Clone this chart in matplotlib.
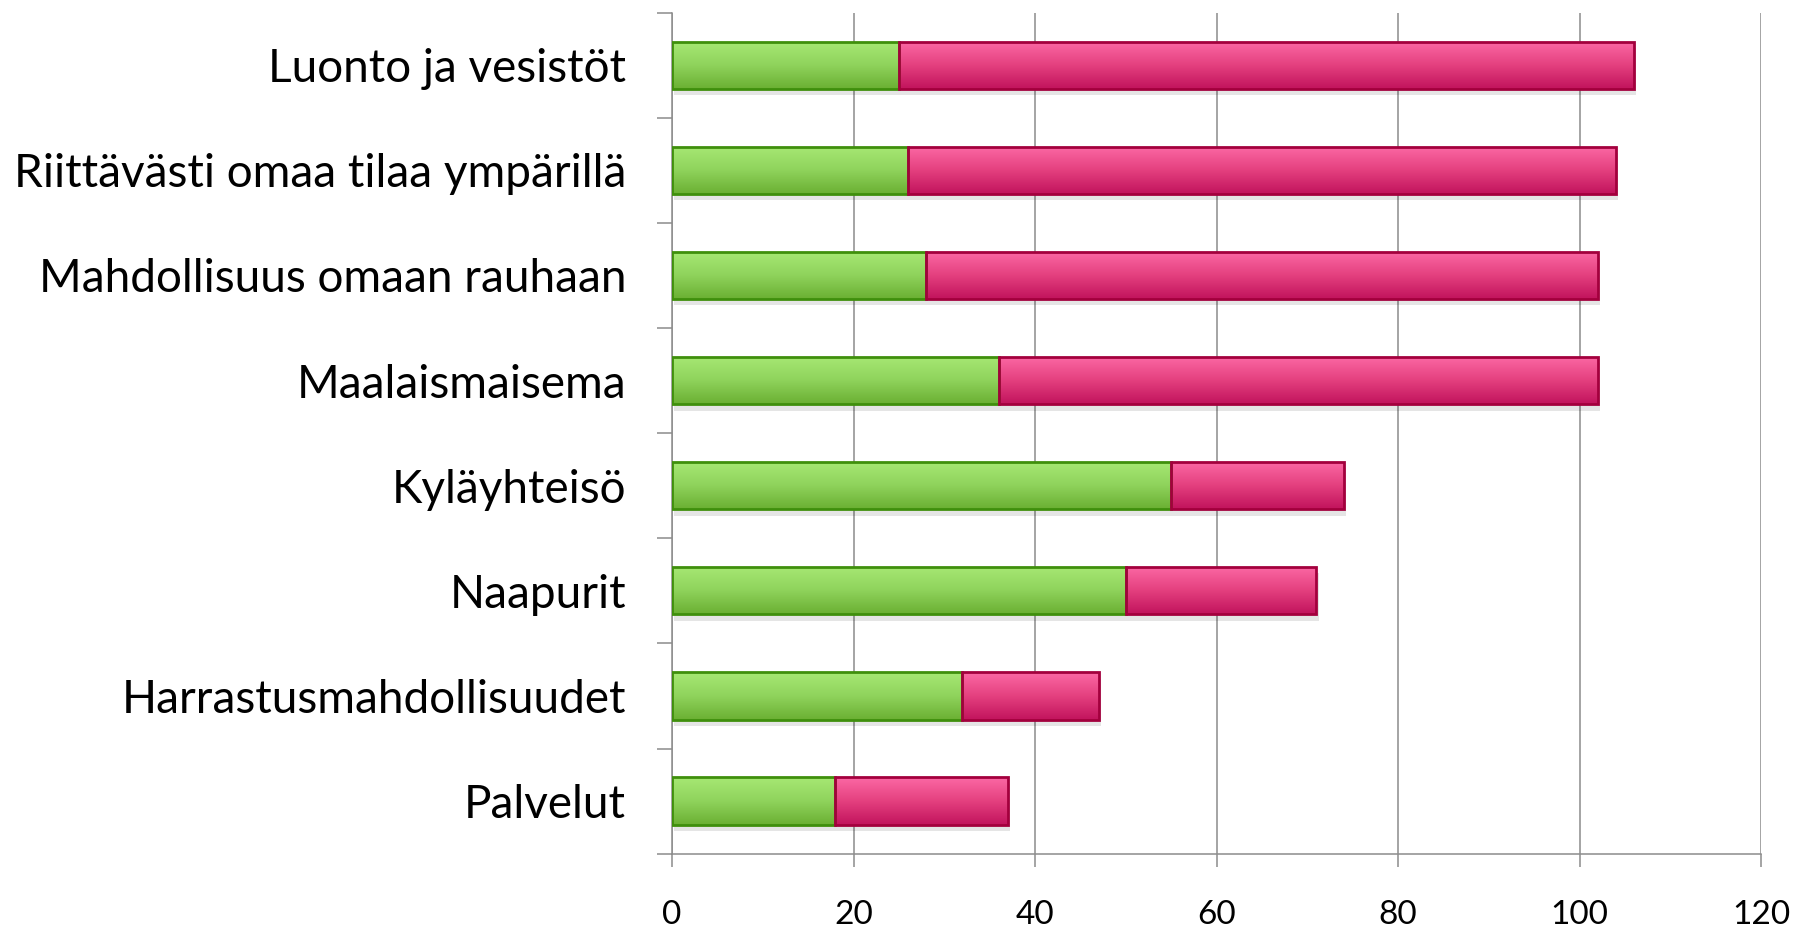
import numpy as np
import matplotlib
matplotlib.use("Agg")
from matplotlib import pyplot as plt
from matplotlib.patches import Rectangle

#------ data ------
categories = ["Luonto ja vesistöt", "Riittävästi omaa tilaa ympärillä",
              "Mahdollisuus omaan rauhaan", "Maalaismaisema", "Kyläyhteisö",
              "Naapurit", "Harrastusmahdollisuudet", "Palvelut"]
green_vals = [25, 26, 28, 36, 55, 50, 32, 18]
pink_vals = [81, 78, 74, 66, 19, 21, 15, 19]
x_ticks = [0, 20, 40, 60, 80, 100, 120]

plt.rcParams['font.family'] = ['Lato', 'DejaVu Sans']

fig = plt.figure(figsize=(18.11, 9.27), dpi=100)
ax = fig.add_axes([0.3711, 0.0791, 0.9724 - 0.3711, 0.9864 - 0.0791])

y = np.arange(len(categories))
h = 0.45

# vertical gradients (top light -> bottom dark)
grad = np.linspace(0, 1, 64).reshape(-1, 1)
green_cmap = matplotlib.colors.LinearSegmentedColormap.from_list("g", ["#a6e873", "#8fd35c", "#6bb033"])
pink_cmap = matplotlib.colors.LinearSegmentedColormap.from_list("p", ["#fb68a4", "#e4407f", "#c2145d"])


def draw_bar(left, width, yc, cmap, edge):
    # soft shadow
    sh = Rectangle((left + 0.25, yc - h / 2 + 0.06), width, h, facecolor="#000000",
                   alpha=0.10, edgecolor="none", zorder=2)
    ax.add_patch(sh)
    rect = Rectangle((left, yc - h / 2), width, h, facecolor="none",
                     edgecolor=edge, linewidth=2.0, zorder=4)
    ax.add_patch(rect)
    im = ax.imshow(grad, cmap=cmap, aspect="auto", origin="upper",
                   extent=(left, left + width, yc + h / 2, yc - h / 2), zorder=3)
    im.set_clip_path(rect)


for i in range(len(categories)):
    draw_bar(0, green_vals[i], y[i], green_cmap, "#3f8f0c")
    draw_bar(green_vals[i], pink_vals[i], y[i], pink_cmap, "#a3003d")

ax.set_xlim(0, 120)
ax.set_ylim(len(categories) - 0.5, -0.5)

gray = "#8c8c8c"
ax.set_xticks(x_ticks)
ax.set_xticklabels([str(v) for v in x_ticks])
ax.set_yticks(np.arange(len(categories) + 1) - 0.5)
ax.set_yticklabels([])
ax.set_yticks(y, minor=True)
ax.set_yticklabels(categories, minor=True)
ax.tick_params(axis="y", which="major", direction="out", length=11, width=1.1, color=gray)
ax.tick_params(axis="y", which="minor", length=0, pad=33, labelsize=33)
ax.tick_params(axis="x", direction="out", length=9.5, width=1.1, color=gray,
               pad=24, labelsize=24)

ax.grid(axis="x", color=gray, linewidth=1.1, zorder=0)
ax.set_axisbelow(True)
for s in ["top", "right"]:
    ax.spines[s].set_visible(False)
for s in ["left", "bottom"]:
    ax.spines[s].set_color(gray)
    ax.spines[s].set_linewidth(1.1)

plt.savefig("out.png", dpi=100)
